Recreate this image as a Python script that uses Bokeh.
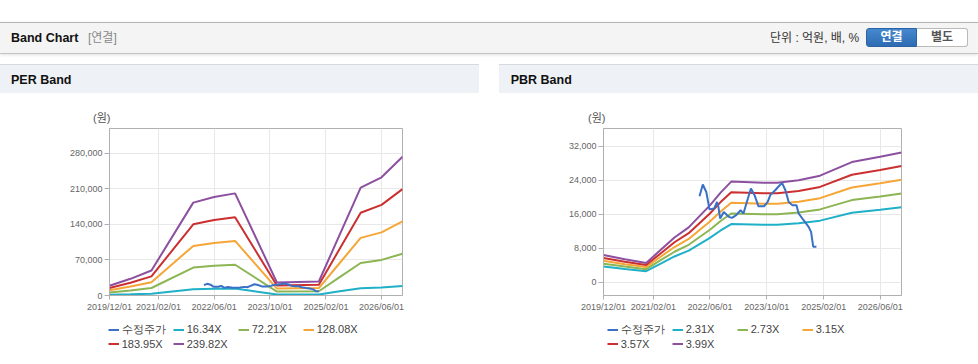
import pandas as pd
from bokeh.plotting import figure
from bokeh.models import (Range1d, FixedTicker, NumeralTickFormatter, DatetimeTickFormatter,
                          Legend, LegendItem, Div, Spacer)
from bokeh.layouts import column, row
from bokeh.embed import file_html
from bokeh.resources import INLINE

# ---------------- data ----------------
x_start = "2019-12-01"
x_end = "2026-12-01"
x_tick_dates = ["2019-12-01", "2021-02-01", "2022-06-01", "2023-10-01", "2025-02-01", "2026-06-01"]

price_label = "수정주가"
price_dates = ["2022-03-04", "2022-04-01", "2022-05-01", "2022-05-19", "2022-05-28", "2022-07-07",
               "2022-08-01", "2022-08-13", "2022-08-28", "2022-09-28", "2022-11-10", "2022-12-07",
               "2023-01-13", "2023-02-19", "2023-03-16", "2023-04-10", "2023-05-19", "2023-06-19",
               "2023-07-22", "2023-09-10", "2023-10-10", "2023-11-01", "2023-12-13", "2024-01-13",
               "2024-02-10", "2024-03-10", "2024-04-07", "2024-05-07", "2024-06-13", "2024-07-01",
               "2024-08-13", "2024-09-25", "2024-10-16", "2024-11-04", "2024-12-01"]
price_values = [20300, 23050, 21300, 18600, 17200, 17400, 18950, 17800, 15050, 16600, 15450, 15200,
                15850, 17000, 16250, 18600, 22100, 20550, 17950, 17950, 18950, 20550, 21700, 22650,
                23450, 21700, 18950, 18200, 18200, 16250, 14650, 13100, 11900, 8400, 8400]

per_dates = ["2019-12-01", "2020-06-01", "2020-12-01", "2021-12-01", "2022-06-01", "2022-12-01",
             "2023-12-01", "2024-12-01", "2025-06-01", "2025-12-01", "2026-06-01", "2026-12-01"]
per_labels = ["16.34X", "72.21X", "128.08X", "183.95X", "239.82X"]
per_16_34 = [1307, 2239, 3350, 12467, 13219, 13709, 1748, 1879, 8170, 14477, 15866, 18628]
per_72_21 = [5777, 9893, 14803, 55096, 58418, 60584, 7726, 8304, 36105, 63978, 70116, 82319]
per_128_08 = [10246, 17547, 26256, 97725, 103617, 107459, 13705, 14729, 64040, 113479, 124366, 146011]
per_183_95 = [14716, 25201, 37710, 140354, 148816, 154334, 19683, 21154, 91975, 162980, 178615, 209703]
per_239_82 = [19186, 32855, 49163, 182983, 194014, 201209, 25661, 27579, 119910, 212481, 232865, 273395]
per_yticks = [0, 70000, 140000, 210000, 280000]

pbr_dates = ["2019-12-01", "2020-06-01", "2020-12-01", "2021-04-01", "2021-08-01", "2021-12-01",
             "2022-06-01", "2022-09-01", "2022-12-01", "2023-09-01", "2024-01-01", "2024-07-01",
             "2025-01-01", "2025-10-01", "2026-06-01", "2026-12-01"]
pbr_labels = ["2.31X", "2.73X", "3.15X", "3.57X", "3.99X"]
pbr_2_31 = [3742, 3165, 2657, 4389, 6122, 7508, 10511, 12243, 13745, 13583, 13583, 13929, 14553, 16401, 17140, 17718]
pbr_2_73 = [4423, 3740, 3140, 5187, 7235, 8873, 12422, 14469, 16244, 16052, 16052, 16462, 17199, 19383, 20257, 20939]
pbr_3_15 = [5103, 4316, 3623, 5985, 8348, 10238, 14333, 16695, 18743, 18522, 18522, 18995, 19845, 22365, 23373, 24161]
pbr_3_57 = [5783, 4891, 4106, 6783, 9461, 11603, 16244, 18921, 21242, 20992, 20992, 21527, 22491, 25347, 26489, 27382]
pbr_3_99 = [6464, 5466, 4589, 7581, 10574, 12968, 18155, 21147, 23741, 23461, 23461, 24060, 25137, 28329, 29606, 30603]
pbr_yticks = [0, 8000, 16000, 24000, 32000]

unit_text = "(원)"

# ---------------- styles ----------------
PRICE_COLOR = "#3a70c6"
BAND_COLORS = ["#1fb0c8", "#8cb553", "#f5a636", "#cc2f2f", "#8d4f9f"]
FONT = "Liberation Sans"
AXIS_GRAY = "#b0b0b0"
FIG_W = 479
CH_H = 191      # chart figure height (page y 126 .. 317)
LEG_H = 46      # legend strip height (page y 317 .. 363)


def ms(d):
    return pd.Timestamp(d).timestamp() * 1000.0


def make_chart(dates, bands, yr, yticks, border_left, frame_w):
    p = figure(width=FIG_W, height=CH_H, x_axis_type="datetime", output_backend="svg",
               toolbar_location=None,
               x_range=Range1d(pd.Timestamp(x_start), pd.Timestamp(x_end)),
               y_range=Range1d(yr[0], yr[1]),
               min_border_left=border_left, min_border_right=FIG_W - border_left - frame_w,
               min_border_top=2, min_border_bottom=CH_H - 2 - 167)
    p.background_fill_color = "#ffffff"
    p.border_fill_color = "#ffffff"
    p.outline_line_color = AXIS_GRAY
    p.outline_line_width = 1

    xd = pd.to_datetime(dates)
    for vals, col in zip(bands, BAND_COLORS):
        p.line(xd, vals, line_color=col, line_width=2)
    p.line(pd.to_datetime(price_dates), price_values, line_color=PRICE_COLOR, line_width=2)

    p.xaxis.ticker = FixedTicker(ticks=[ms(d) for d in x_tick_dates])
    fmt = "%Y/%m/%d"
    p.xaxis.formatter = DatetimeTickFormatter(milliseconds=fmt, seconds=fmt, minsec=fmt, minutes=fmt,
                                              hourmin=fmt, hours=fmt, days=fmt, months=fmt, years=fmt)
    p.yaxis.ticker = FixedTicker(ticks=yticks)
    p.yaxis.formatter = NumeralTickFormatter(format="0,0")
    for ax in (p.xaxis[0], p.yaxis[0]):
        ax.axis_line_color = AXIS_GRAY
        ax.major_tick_line_color = AXIS_GRAY
        ax.major_tick_in = 0
        ax.minor_tick_line_color = None
        ax.major_label_text_font = FONT
        ax.major_label_text_font_size = "9px"
        ax.major_label_text_color = "#666666"
    p.xaxis.major_tick_out = 4
    p.xaxis.major_label_standoff = 2
    p.yaxis.major_tick_out = 5
    p.yaxis.major_label_standoff = 2
    p.xgrid.ticker = p.xaxis[0].ticker
    p.ygrid.ticker = p.yaxis[0].ticker
    p.xgrid.grid_line_color = "#e8e8e8"
    p.ygrid.grid_line_color = "#e8e8e8"
    return p


def make_legend(dates, bands, labels):
    # legend strip: the series are drawn here too, but lie outside this strip's ranges,
    # so only the legend (with its line samples) is visible.
    q = figure(width=FIG_W, height=LEG_H, output_backend="svg", toolbar_location=None,
               x_axis_location=None, y_axis_location=None,
               x_range=Range1d(0, 1), y_range=Range1d(0, 1),
               min_border_left=0, min_border_right=0, min_border_top=0, min_border_bottom=0)
    q.outline_line_color = None
    q.grid.visible = False
    q.background_fill_color = "#ffffff"
    q.border_fill_color = "#ffffff"
    xd = pd.to_datetime(dates)
    rs = [q.line(pd.to_datetime(price_dates), price_values, line_color=PRICE_COLOR, line_width=2)]
    for vals, col in zip(bands, BAND_COLORS):
        rs.append(q.line(xd, vals, line_color=col, line_width=2))
    names = [price_label] + labels
    items = [LegendItem(label=n, renderers=[r]) for n, r in zip(names, rs)]
    for chunk, vy in ((items[:4], 26.5), (items[4:], 13)):
        leg = Legend(items=chunk, location=(107.7, vy), orientation="horizontal",
                     padding=0, margin=0, spacing=0,
                     glyph_width=11, glyph_height=13, label_height=13, label_width=51,
                     label_standoff=3, label_text_font=FONT, label_text_font_size="11px",
                     label_text_color="#444444", border_line_alpha=0, background_fill_alpha=0)
        q.add_layout(leg)
    return q


per_bands = [per_16_34, per_72_21, per_128_08, per_183_95, per_239_82]
pbr_bands = [pbr_2_31, pbr_2_73, pbr_3_15, pbr_3_57, pbr_3_99]
per = make_chart(per_dates, per_bands, (0, 329000), per_yticks, 109, 293)
pbr = make_chart(pbr_dates, pbr_bands, (-3060, 36230), pbr_yticks, 104, 298)
per_leg = make_legend(per_dates, per_bands, per_labels)
pbr_leg = make_legend(pbr_dates, pbr_bands, pbr_labels)

CSSFONT = "'Liberation Sans','Noto Sans CJK KR',sans-serif"
txt = "position:absolute;height:16px;line-height:16px;white-space:nowrap;"
header_html = f"""
<div style="position:relative;width:978px;height:126px;font-family:{CSSFONT};">
 <div style="position:absolute;left:0px;top:22px;width:978px;height:32px;box-sizing:border-box;background:#f4f4f4;border-top:1px solid #b4b4b4;border-bottom:1px solid #c4c4c4;box-shadow:0 1px 3px rgba(0,0,0,0.12);"></div>
 <div style="{txt}left:11px;top:30px;font-size:12.5px;font-weight:bold;color:#111;">Band Chart</div>
 <div style="{txt}left:88px;top:30px;font-size:12px;color:#888;">[연결]</div>
 <div style="{txt}left:770px;top:30px;font-size:12px;color:#333;">단위 : 억원, 배, %</div>
 <div style="position:absolute;left:866px;top:28px;width:51px;height:19px;box-sizing:border-box;background:linear-gradient(#4688cf,#2d6cb3);border:1px solid #2a62a3;border-radius:3px 0 0 3px;color:#fff;font-size:12px;font-weight:bold;text-align:center;line-height:17px;">연결</div>
 <div style="position:absolute;left:917px;top:28px;width:51px;height:19px;box-sizing:border-box;background:#fff;border:1px solid #b9b9b9;border-left:none;border-radius:0 3px 3px 0;color:#555;font-size:12px;font-weight:bold;text-align:center;line-height:17px;">별도</div>
 <div style="position:absolute;left:0px;top:64px;width:479px;height:29px;box-sizing:border-box;background:#eef2f7;border-top:1px solid #d6d9de;"></div>
 <div style="{txt}left:11px;top:72px;font-size:12.5px;font-weight:bold;color:#111;">PER Band</div>
 <div style="position:absolute;left:499px;top:64px;width:479px;height:29px;box-sizing:border-box;background:#eef2f7;border-top:1px solid #d6d9de;"></div>
 <div style="{txt}left:510.7px;top:72px;font-size:12.5px;font-weight:bold;color:#111;">PBR Band</div>
 <div style="{txt}left:93px;top:110px;font-size:11px;color:#555;">{unit_text}</div>
 <div style="{txt}left:588px;top:110px;font-size:11px;color:#555;">{unit_text}</div>
</div>
"""
header = Div(text=header_html, width=978, height=126, margin=0)

bottom_html = """
<div style="position:relative;width:978px;height:1px;">
 <div style="position:absolute;left:0;top:0;width:479px;height:1px;background:#d2d2d2;"></div>
 <div style="position:absolute;left:499px;top:0;width:479px;height:1px;background:#d2d2d2;"></div>
</div>
"""
bottom = Div(text=bottom_html, width=978, height=1, margin=0)

layout = column(header,
                row(per, Spacer(width=20, height=CH_H), pbr),
                row(per_leg, Spacer(width=20, height=LEG_H), pbr_leg),
                bottom)

open("out.html", "w").write(file_html(layout, INLINE))
